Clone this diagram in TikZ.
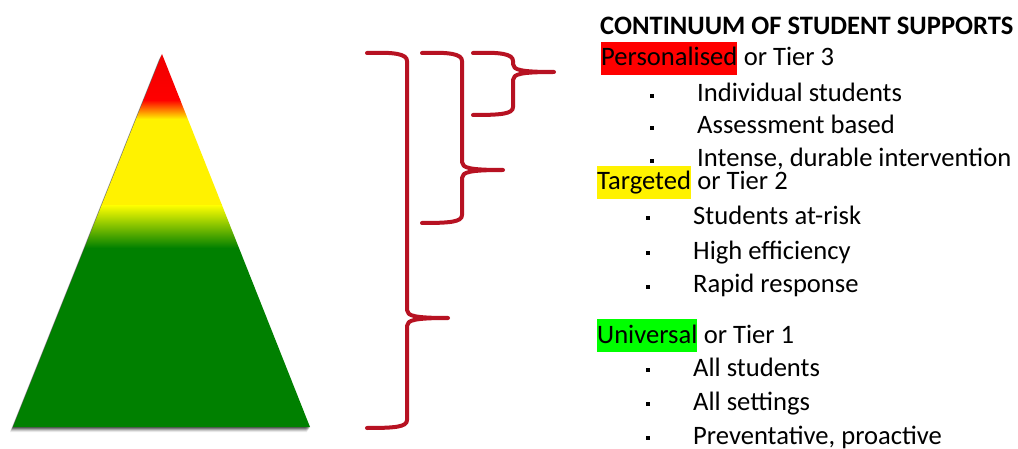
\documentclass[tikz,border=0pt]{standalone}
\usepackage{fontspec}
\setmainfont{Carlito}
\usetikzlibrary{positioning}
\definecolor{tiergreen}{RGB}{0,128,0}
\definecolor{tierred}{RGB}{238,0,0}
\definecolor{bracered}{RGB}{183,18,34}
\definecolor{hlgreen}{RGB}{0,255,0}
\begin{document}
\begin{tikzpicture}[x=1pt, y=-1pt,
    brace/.style={draw=bracered, line width=4pt, line cap=round, line join=round},
    txt/.style={anchor=base west, inner sep=0pt, font=\fontsize{26.6}{32}\selectfont},
    hl/.style={txt, text height=24pt, text depth=9pt},
    dot/.style={fill=black, inner sep=0pt, minimum size=3.5pt}]
    \useasboundingbox (0,0) rectangle (1018,449);
    % pyramid shadow
    \foreach \d/\o in {5/0.08, 4/0.12, 3/0.18, 2/0.25, 1/0.3}
        \fill[black, opacity=\o] (162-0.6*\d,54+\d) -- (310-0.6*\d,427+\d) -- (13-0.6*\d,427+\d) -- cycle;
    % pyramid
    \begin{scope}
        \clip (162,54) -- (310,427) -- (13,427) -- cycle;
        \fill[tiergreen] (0,248) rectangle (330,430);
        \shade[top color=yellow, bottom color=tiergreen] (0,205) rectangle (330,248);
        \fill[yellow] (0,120) rectangle (330,205);
        \shade[top color=red, middle color=orange, bottom color=yellow] (0,100) rectangle (330,120);
        \shade[top color=tierred, bottom color=red] (0,50) rectangle (330,100);
    \end{scope}
    % braces
    \foreach \xl/\yc/\yb in {367/318/428, 422/170/223, 473/72/115}
        \draw[brace] (\xl,53) .. controls (\xl+28,52) and (\xl+40,54) .. (\xl+40,61)
            -- (\xl+40,\yc-8) .. controls (\xl+40,\yc-2) and (\xl+48,\yc) .. (\xl+81,\yc)
            .. controls (\xl+48,\yc) and (\xl+40,\yc+2) .. (\xl+40,\yc+8)
            -- (\xl+40,\yb-8) .. controls (\xl+40,\yb-1) and (\xl+28,\yb) .. (\xl,\yb);
    % heading
    \node[txt, font=\fontsize{26.6}{32}\selectfont\bfseries] (title) at (600,35) {CONTINUUM OF STUDENT SUPPORTS};
    % tier 3
    \node[hl, fill=red] (tier3) at (601,66) {Personalised};
    \node[txt, anchor=base west] (tier3b) at ([xshift=6pt]tier3.base east) {or Tier 3};
    \node[dot] (d3a) at (652,96) {};
    \node[dot] (d3b) at (652,128) {};
    \node[dot] (d3c) at (652,161) {};
    \node[txt] (t3a) at (697,102) {Individual students};
    \node[txt] (t3b) at (697,134) {Assessment based};
    \node[txt] (t3c) at (697,167) {Intense, durable intervention};
    % tier 2
    \node[hl, fill=yellow] (tier2) at (597,190) {Targeted};
    \node[txt, anchor=base west] (tier2b) at ([xshift=6pt]tier2.base east) {or Tier 2};
    \node[dot] (d2a) at (648,218) {};
    \node[dot] (d2b) at (648,253) {};
    \node[dot] (d2c) at (648,287) {};
    \node[txt] (t2a) at (693,225) {Students at-risk};
    \node[txt] (t2b) at (693,260) {High efficiency};
    \node[txt] (t2c) at (693,293) {Rapid response};
    % tier 1
    \node[hl, fill=hlgreen] (tier1) at (597,343) {Universal};
    \node[txt, anchor=base west] (tier1b) at ([xshift=6pt]tier1.base east) {or Tier 1};
    \node[dot] (d1a) at (648,370) {};
    \node[dot] (d1b) at (648,404) {};
    \node[dot] (d1c) at (648,438) {};
    \node[txt] (t1a) at (693,376) {All students};
    \node[txt] (t1b) at (693,410) {All settings};
    \node[txt] (t1c) at (693,444) {Preventative, proactive};
\end{tikzpicture}
\end{document}
